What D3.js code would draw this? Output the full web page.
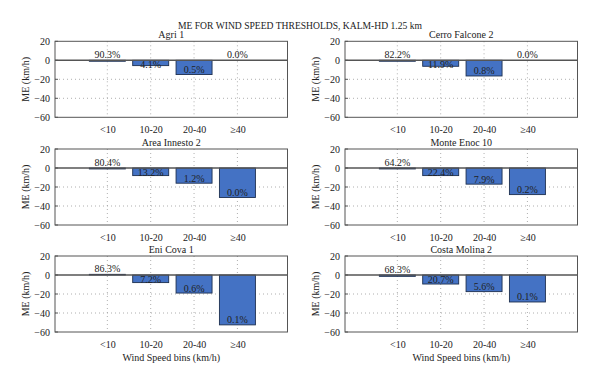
<!DOCTYPE html>
<html><head><meta charset="utf-8">
<script src="https://cdn.jsdelivr.net/npm/d3@7"></script>
<style>
body{margin:0;background:#fff;}
text{font-family:"Liberation Serif","DejaVu Serif",serif;fill:#222;}
</style></head>
<body><svg id="c" width="600" height="383"></svg>
<script>
const mainTitle = "ME FOR WIND SPEED THRESHOLDS, KALM-HD 1.25 km";
const stations = ["Agri 1","Cerro Falcone 2","Area Innesto 2","Monte Enoc 10","Eni Cova 1","Costa Molina 2"];
const bins = ["<10","10-20","20-40","\u226540"];
const meAgri = [-1,-5.6,-15,0];
const meCerro = [-1,-6.3,-16.5,0];
const meArea = [-1,-8,-16,-31];
const meMonte = [-1,-8,-17,-28];
const meEni = [0.7,-8,-19,-52.5];
const meCosta = [-1.4,-9.5,-17.5,-28.4];
const shareAgri = ["90.3%","4.1%","0.5%","0.0%"];
const shareCerro = ["82.2%","11.9%","0.8%","0.0%"];
const shareArea = ["80.4%","13.2%","1.2%","0.0%"];
const shareMonte = ["64.2%","22.4%","7.9%","0.2%"];
const shareEni = ["86.3%","7.2%","0.6%","0.1%"];
const shareCosta = ["68.3%","20.7%","5.6%","0.1%"];
const yTicks = [20,0,-20,-40,-60];
const yLabel = "ME (km/h)";
const xLabel = "Wind Speed bins (km/h)";

const meAll = [meAgri,meCerro,meArea,meMonte,meEni,meCosta];
const shareAll = [shareAgri,shareCerro,shareArea,shareMonte,shareEni,shareCosta];

const svg = d3.select("#c");
const colX = [55, 345], pw = 232.5;
const rowY = [41.3, 149, 256], ph = 76;
const fs = 10;

svg.append("text").attr("x",300).attr("y",29).attr("text-anchor","middle")
  .style("font-size","9.6px").text(mainTitle);

stations.forEach((name,i)=>{
  const col = i%2, row = Math.floor(i/2);
  const x0 = colX[col], y0 = rowY[row];
  const g = svg.append("g");
  const x = d3.scaleLinear().domain([-0.207,5.155]).range([x0,x0+pw]);
  const y = d3.scaleLinear().domain([-60,20]).range([y0+ph,y0]);
  const idx = bins.map((b,k)=>k+1);
  // grid
  g.selectAll(".vg").data(idx).enter().append("line")
    .attr("x1",d=>x(d)).attr("x2",d=>x(d)).attr("y1",y0).attr("y2",y0+ph)
    .attr("stroke","#9a9a9a").attr("stroke-width",0.8).attr("stroke-dasharray","1,3");
  g.selectAll(".hg").data(yTicks.filter(t=>t<0 && t>-60)).enter().append("line")
    .attr("x1",x0).attr("x2",x0+pw).attr("y1",d=>y(d)).attr("y2",d=>y(d))
    .attr("stroke","#9a9a9a").attr("stroke-width",0.8).attr("stroke-dasharray","1,3");
  // bars
  const vals = meAll[i];
  const bw = (x(2)-x(1))*0.83;
  g.selectAll(".bar").data(vals.map((v,k)=>({v,k})).filter(d=>d.v!==0)).enter().append("rect")
    .attr("x",d=>x(d.k+1)-bw/2).attr("width",bw)
    .attr("y",d=>Math.min(y(d.v),y(0))).attr("height",d=>Math.abs(y(d.v)-y(0)))
    .attr("fill","#4472c4").attr("stroke","#1d2f4f").attr("stroke-width",0.9);
  // zero line
  g.append("line").attr("x1",x0).attr("x2",x0+pw).attr("y1",y(0)).attr("y2",y(0))
    .attr("stroke","#555").attr("stroke-width",1.4);
  // box
  g.append("rect").attr("x",x0).attr("y",y0).attr("width",pw).attr("height",ph)
    .attr("fill","none").attr("stroke","#555").attr("stroke-width",1);
  // y axis
  const ya = d3.axisLeft(y).tickValues(yTicks).tickSize(0).tickPadding(5)
    .tickFormat(d=>d<0?"\u2212"+Math.abs(d):d);
  const yg = g.append("g").attr("transform",`translate(${x0},0)`).call(ya);
  yg.select(".domain").remove();
  yg.selectAll("text").style("font-size",fs+"px").style("font-family","Liberation Serif, serif").attr("fill","#222");
  // inner ticks
  g.selectAll(".yt").data(yTicks).enter().append("line")
    .attr("x1",x0).attr("x2",x0+3).attr("y1",d=>y(d)).attr("y2",d=>y(d)).attr("stroke","#555");
  // x axis
  const xa = d3.axisBottom(x).tickValues(idx).tickSize(0).tickPadding(9).tickFormat(d=>bins[d-1]);
  const xg = g.append("g").attr("transform",`translate(0,${y0+ph})`).call(xa);
  xg.select(".domain").remove();
  xg.selectAll("text").style("font-size",fs+"px").style("font-family","Liberation Serif, serif").attr("fill","#222");
  // labels
  g.selectAll(".lbl").data(vals.map((v,k)=>({v,k}))).enter().append("text")
    .attr("x",d=>x(d.k+1)).attr("text-anchor","middle").style("font-size",fs+"px")
    .attr("y",d=> Math.abs(d.v)<2 ? Math.min(y(d.v),y(0))-2 : Math.max(y(d.v)-1.5, y(0)+8))
    .text(d=>shareAll[i][d.k]);
  // panel title
  g.append("text").attr("x",x0+pw/2).attr("y",y0-3).attr("text-anchor","middle")
    .style("font-size",fs+"px").text(name);
  // y label
  g.append("text").attr("transform",`translate(${x0-30},${y0+ph/2}) rotate(-90)`)
    .attr("text-anchor","middle").attr("dy","0.35em").style("font-size",fs+"px").text(yLabel);
  if(row===2){
    g.append("text").attr("x",x0+pw/2).attr("y",y0+ph+29).attr("text-anchor","middle")
      .style("font-size",fs+"px").text(xLabel);
  }
});
</script></body></html>
